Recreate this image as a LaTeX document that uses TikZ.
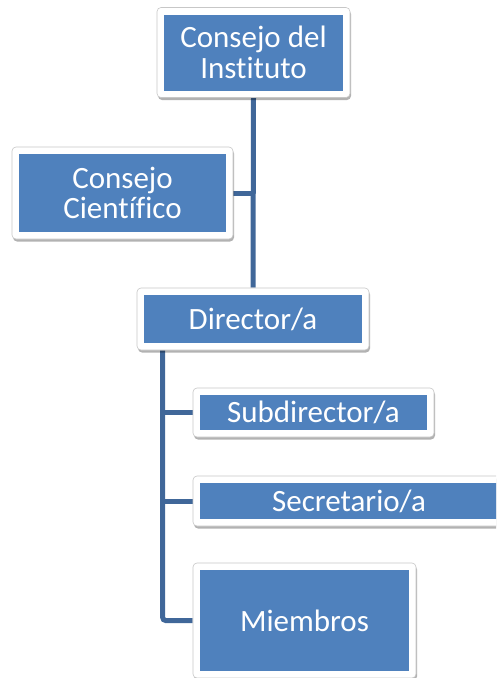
\documentclass[tikz,border=0pt]{standalone}
\usepackage{fontspec}
\setmainfont{Carlito}[Ligatures=NoCommon]
\usetikzlibrary{shadows,backgrounds}
\definecolor{boxblue}{RGB}{79,129,189}
\definecolor{linkblue}{RGB}{64,103,153}
\tikzset{
  orgbox/.style={draw=black!22, line width=0.6pt, fill=white, rounded corners=4pt,
    drop shadow={shadow xshift=1pt, shadow yshift=-2.5pt, opacity=0.3, fill=black},
    text=white, font=\fontsize{31}{30.6}\selectfont, align=center, inner sep=0pt,
    path picture={\fill[boxblue,sharp corners] ([shift={(7pt,-7pt)}]path picture bounding box.north west) rectangle ([shift={(-7pt,7pt)}]path picture bounding box.south east);}},
  conn/.style={draw=linkblue, line width=5pt}
}
\begin{document}
\begin{tikzpicture}[x=1pt,y=-1pt]
\useasboundingbox (0,0) rectangle (496,678);
\clip (0,0) rectangle (496,678);
\node[orgbox, minimum width=193pt, minimum height=90pt] (c1) at (253.5,52.5) {Consejo del\\Instituto};
\node[orgbox, minimum width=221pt, minimum height=92pt] (c2) at (122.5,193) {Consejo\\Científico};
\node[orgbox, minimum width=232pt, minimum height=62pt] (c3) at (253,319) {Director/a};
\node[orgbox, minimum width=241pt, minimum height=49pt] (c4) at (313.5,412.5) {Subdirector/a};
\node[orgbox, minimum width=312pt, minimum height=50pt] (c5) at (349,501) {Secretario/a};
\node[orgbox, minimum width=223pt, minimum height=115pt] (c6) at (304.5,620.5) {Miembros};
\coordinate (d) at ([xshift=26pt]c3.south west);
\begin{pgfonlayer}{background}
\draw[conn] (c1.south) -- (c3.north);
\draw[conn] (c2.east) -- (c2.east -| c1.south);
\draw[conn, rounded corners=3pt] (d) |- (c6.west);
\draw[conn] (c4.west -| d) -- (c4.west);
\draw[conn] (c5.west -| d) -- (c5.west);
\end{pgfonlayer}
\end{tikzpicture}
\end{document}
